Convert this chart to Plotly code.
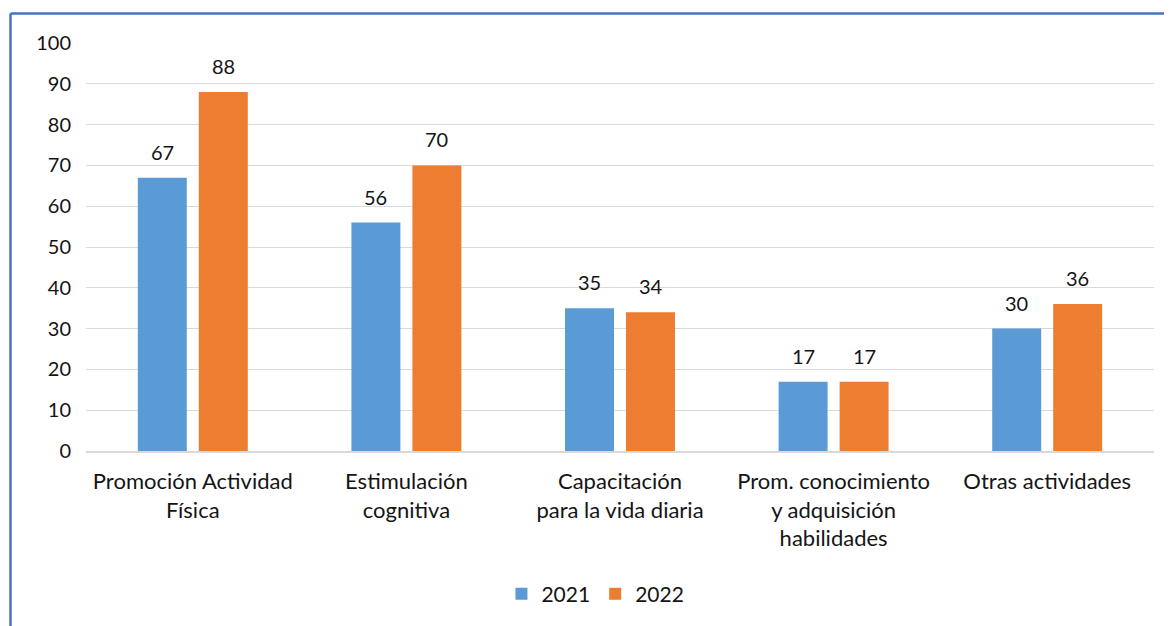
import plotly.graph_objects as go

categories = ["Promoción Actividad<br>Física", "Estimulación<br>cognitiva", "Capacitación<br>para la vida diaria",
              "Prom. conocimiento<br>y adquisición<br>habilidades", "Otras actividades"]
v2021 = [67, 56, 35, 17, 30]
v2022 = [88, 70, 34, 17, 36]
series = [("2021", v2021, "#5B9BD5"), ("2022", v2022, "#ED7D31")]

FONT = "Lato"
TXT = "#141414"

fig = go.Figure()
for name, vals, col in series:
    fig.add_trace(go.Bar(name=name, x=categories, y=vals, marker=dict(color=col, line=dict(width=0))))

annotations = []
for i, (name, vals, col) in enumerate(series):
    shift = -30.5 if i == 0 else 30.5
    for c, v in zip(categories, vals):
        annotations.append(dict(x=c, y=v, xref="x", yref="y", text=str(v), showarrow=False,
                                xshift=shift, yshift=12, yanchor="bottom",
                                font=dict(family=FONT, size=20, color=TXT)))

# page body has an 8px margin, so the figure is 8px smaller than the window
W, H = 1164, 618
L, R, T, B = 78, 18, 35, 175
pw, ph = W - L - R, H - T - B
bx = (2.5 - L) / pw
by = 1 + (T - 5.5) / ph
xr = (W - L) / pw
yb = -(H - T - ph) / ph

shapes = [
    dict(type="line", xref="paper", yref="paper", x0=bx, x1=bx, y0=yb, y1=by, line=dict(color="#4472C4", width=2.5)),
    dict(type="line", xref="paper", yref="paper", x0=bx, x1=xr, y0=by, y1=by, line=dict(color="#4472C4", width=2.5)),
]

fig.update_layout(
    width=W, height=H,
    margin=dict(l=L, r=R, t=T, b=B),
    paper_bgcolor="white", plot_bgcolor="white",
    barmode="group", bargap=0.429, bargroupgap=0.197,
    font=dict(family=FONT, size=20, color=TXT),
    showlegend=True,
    legend=dict(orientation="h", x=0.477, xanchor="center", y=-0.3505, yanchor="middle",
                font=dict(family=FONT, size=21, color=TXT)),
    annotations=annotations,
    shapes=shapes,
    xaxis=dict(showgrid=False, showline=True, linecolor="#D9D9D9", linewidth=1.5, ticks="",
               ticklabelstandoff=10,
               tickfont=dict(family=FONT, size=22, color=TXT)),
    yaxis=dict(range=[0, 100], dtick=10, showgrid=True, gridcolor="#D9D9D9", gridwidth=1.3,
               zeroline=False, showline=False, ticks="", ticklabelstandoff=14,
               tickfont=dict(family=FONT, size=20, color=TXT)),
)

fig.write_html("out.html")
